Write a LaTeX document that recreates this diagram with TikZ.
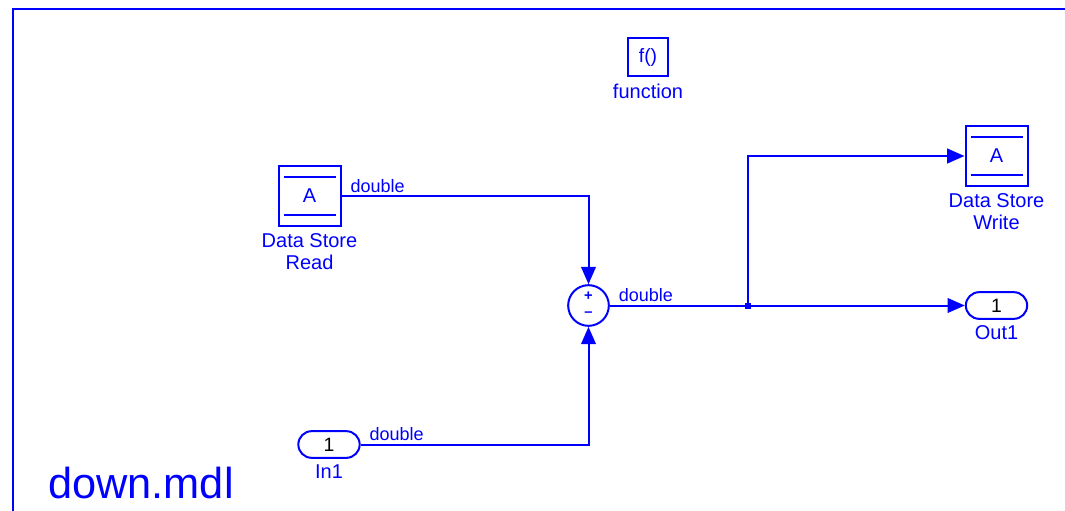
\documentclass[tikz,border=0pt]{standalone}
\usepackage{fontspec}
\setmainfont{Liberation Sans}
\usetikzlibrary{arrows.meta, positioning, calc, shapes.misc}
\definecolor{slblue}{HTML}{0000FF}
\tikzset{
  >={Triangle[length=13pt, width=11pt]},
  every node/.style={text=slblue, inner sep=0pt},
  wire/.style={draw=slblue, line width=1.5pt},
  block/.style={
    rectangle, draw=slblue, line width=1.5pt, inner sep=0pt,
    minimum width=46.5pt, minimum height=45pt, font=\fontsize{15}{17}\selectfont
  },
  fcnblock/.style={
    rectangle, draw=slblue, line width=1.5pt, inner sep=0pt,
    minimum width=30pt, minimum height=28.5pt, font=\fontsize{14.5}{16}\selectfont
  },
  port/.style={
    rounded rectangle, draw=slblue, line width=1.5pt, inner sep=0pt,
    minimum width=46pt, minimum height=20pt, text=black,
    font=\fontsize{14.5}{16}\selectfont
  },
  sumblock/.style={
    circle, draw=slblue, line width=1.5pt, minimum size=30.5pt, inner sep=0pt
  },
  blocklabel/.style={font=\fontsize{15}{16.5}\selectfont, align=center},
  siglabel/.style={font=\fontsize{13.5}{15}\selectfont, anchor=base west,
    xshift=6pt, yshift=3pt},
  signsym/.style={font=\fontsize{11}{12}\selectfont\bfseries}
}

\begin{document}
\begin{tikzpicture}[x=0.75pt, y=-0.75pt]
\useasboundingbox (0,0) rectangle (1065,511);

% model frame
\draw[wire] (13,511) -- (13,9) -- (1065,9);

% function-call block
\node[fcnblock] (fcn) at (648,57) {f()};
\node[blocklabel, below=5pt of fcn] (fcnlbl) {function};

% data store read
\node[block] (dsr) at (309.5,196) {A};
\draw[slblue, line width=1.3pt] ($(dsr.north west)+(6,12)$) -- ($(dsr.north east)+(-6,12)$);
\draw[slblue, line width=1.3pt] ($(dsr.south west)+(6,-12)$) -- ($(dsr.south east)+(-6,-12)$);
\node[blocklabel, below=5pt of dsr] (dsrlbl) {Data Store\\Read};

% data store write
\node[block] (dsw) at (996.5,156) {A};
\draw[slblue, line width=1.3pt] ($(dsw.north west)+(6,12)$) -- ($(dsw.north east)+(-6,12)$);
\draw[slblue, line width=1.3pt] ($(dsw.south west)+(6,-12)$) -- ($(dsw.south east)+(-6,-12)$);
\node[blocklabel, below=5pt of dsw] (dswlbl) {Data Store\\Write};

% sum
\node[sumblock] (sum) at (588.5,305.5) {};
\node[signsym] (plus) at ($(sum)+(0,-9)$) {+};
\node[signsym] (minus) at ($(sum)+(0,9)$) {--};

% ports
\node[port] (in1) at (329,444.5) {1};
\node[blocklabel, below=4pt of in1] (in1lbl) {In1};
\node[port] (out1) at (996.5,305.5) {1};
\node[blocklabel, below=4pt of out1] (out1lbl) {Out1};

% signals
\draw[wire, ->] (dsr.east) -| (sum.north) node[siglabel, pos=0] {double};
\draw[wire, ->] (in1.east) -| (sum.south) node[siglabel, pos=0] {double};
\coordinate (br) at (748,305.5);
\draw[wire, ->] (sum.east) -- (out1.west) node[siglabel, pos=0] {double};
\draw[wire, ->] (br) |- (dsw.west);
\fill[slblue] ($(br)+(-3,-3)$) rectangle ($(br)+(3,3)$);

% model name
\node[font=\fontsize{32.5}{34}\selectfont, anchor=west] (mdl) at (48,483) {down.mdl};

\end{tikzpicture}
\end{document}
